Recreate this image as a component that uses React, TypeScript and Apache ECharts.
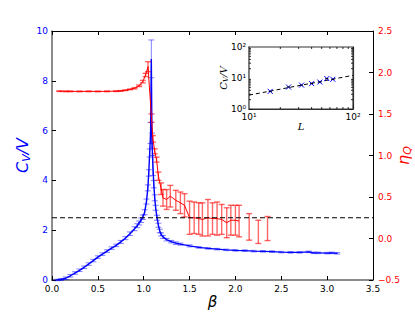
import React, { useEffect, useRef } from 'react';
import * as echarts from 'echarts';

// ---- main panel: specific heat C_V/V (left axis) ----
const betaBlue = [0.05,0.1,0.15,0.2,0.25,0.3,0.35,0.4,0.45,0.5,0.55,0.6,0.65,0.7,0.75,0.8,0.85,0.9,0.93,0.95,0.97,0.99,1.01,1.03,1.045,1.055,1.065,1.075,1.083,1.09,1.1,1.11,1.12,1.13,1.145,1.16,1.175,1.19,1.21,1.25,1.3,1.35,1.4,1.5,1.6,1.7,1.8,1.9,2.0,2.1,2.2,2.3,2.4,2.5,2.6,2.7,2.8,2.85,2.9,3.0,3.05,3.11];
const cvBlue = [0.0,0.02,0.07,0.17,0.28,0.39,0.51,0.64,0.78,0.92,1.04,1.16,1.28,1.39,1.53,1.68,1.86,2.06,2.18,2.29,2.40,2.52,2.72,3.15,3.7,4.3,5.1,5.9,8.88,5.6,4.6,3.85,3.3,2.9,2.5,2.2,1.97,1.83,1.73,1.62,1.54,1.48,1.44,1.37,1.31,1.27,1.24,1.21,1.19,1.18,1.16,1.15,1.14,1.12,1.11,1.11,1.13,1.09,1.09,1.08,1.09,1.07];
const cvErr = [0.03,0.04,0.05,0.05,0.05,0.05,0.05,0.05,0.05,0.05,0.05,0.05,0.05,0.05,0.06,0.06,0.07,0.08,0.08,0.08,0.09,0.09,0.1,0.1,0.12,0.13,0.16,0.42,0.76,0.3,0.4,0.15,0.12,0.1,0.1,0.08,0.07,0.06,0.06,0.05,0.05,0.05,0.04,0.04,0.03,0.03,0.03,0.03,0.03,0.03,0.03,0.03,0.03,0.03,0.03,0.03,0.03,0.03,0.03,0.03,0.03,0.03];

// ---- main panel: eta_Q (right axis) ----
const betaRed = [0.08,0.15,0.2,0.3,0.4,0.5,0.6,0.7,0.75,0.8,0.85,0.9,0.95,0.99,1.02,1.047,1.085,1.1,1.12,1.14,1.16,1.19,1.21,1.25,1.29,1.35,1.4,1.445,1.5,1.55,1.6,1.64,1.7,1.75,1.8,1.85,1.905,1.95,2.0,2.04];
const etaRed = [1.775,1.773,1.773,1.772,1.773,1.772,1.773,1.775,1.778,1.786,1.797,1.81,1.84,1.89,1.97,2.07,1.45,1.2,1.05,0.95,0.75,0.6,0.49,0.47,0.51,0.46,0.43,0.40,0.25,0.25,0.24,0.23,0.25,0.24,0.24,0.23,0.19,0.22,0.22,0.21];
const etaErr = [0.004,0.004,0.004,0.004,0.004,0.004,0.004,0.004,0.004,0.004,0.004,0.008,0.01,0.015,0.02,0.06,0.05,0.04,0.03,0.03,0.05,0.07,0.1,0.12,0.13,0.12,0.13,0.14,0.2,0.19,0.19,0.2,0.22,0.19,0.2,0.18,0.18,0.18,0.18,0.19];
const betaRedTail = [2.15, 2.25, 2.35];
const etaRedTail = [0.14, 0.08, 0.12];
const etaErrTail = [0.16, 0.14, 0.145];

const dashedEta = 0.25;
const betaRange = [0, 3.5];

// ---- inset: C_V/V peak vs L (log-log) ----
const insetL = [16, 24, 32, 40, 48, 56, 64];
const insetCv = [3.7, 5.1, 5.9, 6.6, 7.4, 9.6, 9.1];
const insetFitL = [10, 100];
const insetFitCv = [2.8, 12.2];
const insetMinorL = [20, 30, 40, 50, 60, 70, 80, 90];
const insetMinorCv = [2, 3, 4, 5, 6, 7, 8, 9, 20, 30, 40, 50, 60, 70, 80, 90];

const BLUE = '#0000ff';
const RED = '#ff0000';
const FONT = 'DejaVu Sans';

const SUP: Record<string, string> = { '0': '\u2070', '1': '\u00b9', '2': '\u00b2', '3': '\u00b3' };
function pow10Label(v: number) {
  const e = Math.round(Math.log10(v));
  return '10' + String(e).split('').map((c) => SUP[c] || c).join('');
}

function errorBarRender(color: string, capHalf: number, lw: number) {
  return (params: any, api: any) => {
    const x = api.value(0);
    const y = api.value(1);
    const e = api.value(2);
    const top = api.coord([x, y + e]);
    const bot = api.coord([x, y - e]);
    const style = { stroke: color, lineWidth: lw };
    return {
      type: 'group',
      children: [
        { type: 'line', shape: { x1: top[0], y1: top[1], x2: bot[0], y2: bot[1] }, style },
        { type: 'line', shape: { x1: top[0] - capHalf, y1: top[1], x2: top[0] + capHalf, y2: top[1] }, style },
        { type: 'line', shape: { x1: bot[0] - capHalf, y1: bot[1], x2: bot[0] + capHalf, y2: bot[1] }, style },
      ],
    };
  };
}

export default function App() {
  const ref = useRef<HTMLDivElement>(null);
  useEffect(() => {
    document.body.style.margin = '0';
    const chart = echarts.init(ref.current as HTMLDivElement, undefined, { renderer: 'svg' });
    const tickLabel = { fontFamily: FONT, fontSize: 9 };
    const option: any = {
      animation: false,
      backgroundColor: '#ffffff',
      grid: [
        { left: 52, right: 42, top: 31, bottom: 32, outerBoundsMode: 'none', containLabel: false },
        { left: 249, top: 47, width: 104, height: 62, show: true, backgroundColor: '#ffffff', borderColor: '#333', borderWidth: 1.2, z: 5, outerBoundsMode: 'none', containLabel: false },
      ],
      xAxis: [
        {
          gridIndex: 0, type: 'value', min: 0, max: 3.5, interval: 0.5, position: 'bottom',
          axisLine: { show: true, onZero: false, lineStyle: { color: '#666', width: 1.5 } },
          axisTick: { show: true, inside: true, length: 4, lineStyle: { color: '#000' } },
          axisLabel: { ...tickLabel, color: '#000', margin: 4, formatter: (v: number) => v.toFixed(1) },
          splitLine: { show: false },
          name: 'β', nameLocation: 'middle', nameGap: 14, nameMoveOverlap: false,
          nameTextStyle: { fontFamily: FONT, fontStyle: 'italic', fontSize: 15, color: '#000' },
        },
        {
          gridIndex: 0, type: 'value', min: 0, max: 3.5, interval: 0.5, position: 'top',
          axisLine: { show: true, onZero: false, lineStyle: { color: '#000', width: 1 } },
          axisTick: { show: true, inside: true, length: 4, lineStyle: { color: '#000' } },
          axisLabel: { show: false }, splitLine: { show: false },
        },
        {
          gridIndex: 1, type: 'log', logBase: 10, min: 10, max: 100, position: 'bottom',
          axisLine: { show: true, onZero: false, lineStyle: { color: '#333', width: 1.2 } },
          axisTick: { show: true, inside: true, length: 4, lineStyle: { color: '#000' } },
          axisLabel: { ...tickLabel, color: '#000', margin: 3, formatter: (v: number) => pow10Label(v) },
          splitLine: { show: false },
          name: 'L', nameLocation: 'middle', nameGap: 12, nameMoveOverlap: false,
          nameTextStyle: { fontFamily: 'DejaVu Serif', fontStyle: 'italic', fontSize: 10, color: '#000' },
        },
        {
          gridIndex: 1, type: 'log', logBase: 10, min: 10, max: 100, position: 'top',
          axisLine: { show: true, onZero: false, lineStyle: { color: '#333', width: 1.2 } },
          axisTick: { show: true, inside: true, length: 4, lineStyle: { color: '#000' } },
          axisLabel: { show: false }, splitLine: { show: false },
        },
      ],
      yAxis: [
        {
          gridIndex: 0, type: 'value', min: 0, max: 10, interval: 2, position: 'left',
          axisLine: { show: true, onZero: false, lineStyle: { color: '#666', width: 1.5 } },
          axisTick: { show: true, inside: true, length: 4, lineStyle: { color: '#000' } },
          axisLabel: { ...tickLabel, color: BLUE, margin: 4 },
          splitLine: { show: false },
          name: '{a|C}{b|V}{a|/V}', nameLocation: 'middle', nameGap: 20, nameRotate: 90, nameMoveOverlap: false,
          nameTextStyle: {
            rich: {
              a: { fontFamily: FONT, fontStyle: 'italic', fontSize: 16, color: BLUE, lineHeight: 20 },
              b: { fontFamily: FONT, fontStyle: 'italic', fontSize: 11, color: BLUE, lineHeight: 12, padding: [8, 0, 0, 0] },
            },
          },
        },
        {
          gridIndex: 0, type: 'value', min: -0.5, max: 2.5, interval: 0.5, position: 'right',
          axisLine: { show: true, onZero: false, lineStyle: { color: '#000', width: 1 } },
          axisTick: { show: true, inside: true, length: 4, lineStyle: { color: '#000' } },
          axisLabel: { ...tickLabel, color: RED, margin: 5, formatter: (v: number) => (v < 0 ? '\u2212' : '') + Math.abs(v).toFixed(1) },
          splitLine: { show: false },
          name: '{a|η}{b|Q}', nameLocation: 'middle', nameGap: 20, nameRotate: 90, nameMoveOverlap: false,
          nameTextStyle: {
            rich: {
              a: { fontFamily: FONT, fontStyle: 'italic', fontSize: 16, color: RED, lineHeight: 20 },
              b: { fontFamily: FONT, fontStyle: 'italic', fontSize: 11, color: RED, lineHeight: 12, padding: [8, 0, 0, 0] },
            },
          },
        },
        {
          gridIndex: 1, type: 'log', logBase: 10, min: 1, max: 100, position: 'left',
          axisLine: { show: true, onZero: false, lineStyle: { color: '#333', width: 1.2 } },
          axisTick: { show: true, inside: true, length: 4, lineStyle: { color: '#000' } },
          axisLabel: { ...tickLabel, color: '#000', margin: 3, formatter: (v: number) => pow10Label(v) },
          splitLine: { show: false },
          name: '{a|C}{b|V}{a|/V}', nameLocation: 'middle', nameGap: 20, nameRotate: 90, nameMoveOverlap: false,
          nameTextStyle: {
            rich: {
              a: { fontFamily: 'DejaVu Serif', fontStyle: 'italic', fontSize: 10, color: '#000', lineHeight: 12 },
              b: { fontFamily: 'DejaVu Serif', fontStyle: 'italic', fontSize: 7, color: '#000', lineHeight: 8, padding: [5, 0, 0, 0] },
            },
          },
        },
        {
          gridIndex: 1, type: 'log', logBase: 10, min: 1, max: 100, position: 'right',
          axisLine: { show: true, onZero: false, lineStyle: { color: '#333', width: 1.2 } },
          axisTick: { show: true, inside: true, length: 4, lineStyle: { color: '#000' } },
          axisLabel: { show: false }, splitLine: { show: false },
        },
      ],
      series: [
        {
          type: 'custom', name: 'cvErr', xAxisIndex: 0, yAxisIndex: 0, z: 2,
          renderItem: errorBarRender('rgba(0,0,255,0.5)', 3, 1),
          data: betaBlue.map((b, i) => [b, cvBlue[i], cvErr[i]]),
        },
        {
          type: 'line', name: 'cv', xAxisIndex: 0, yAxisIndex: 0, z: 3, symbol: 'none',
          lineStyle: { color: BLUE, width: 1.4 },
          data: betaBlue.map((b, i) => [b, cvBlue[i]]),
        },
        {
          type: 'custom', name: 'etaErr', xAxisIndex: 0, yAxisIndex: 1, z: 2,
          renderItem: errorBarRender('rgba(255,0,0,0.6)', 3, 1.4),
          data: betaRed.map((b, i) => [b, etaRed[i], etaErr[i]]).concat(
            betaRedTail.map((b, i) => [b, etaRedTail[i], etaErrTail[i]])
          ),
        },
        {
          type: 'line', name: 'eta', xAxisIndex: 0, yAxisIndex: 1, z: 3, symbol: 'none',
          lineStyle: { color: RED, width: 1 },
          data: betaRed.map((b, i) => [b, etaRed[i]]),
        },
        {
          type: 'line', name: 'level', xAxisIndex: 0, yAxisIndex: 1, z: 4, symbol: 'none',
          lineStyle: { color: '#000', width: 1, type: [5, 3] },
          data: betaRange.map((b) => [b, dashedEta]),
        },
        {
          type: 'line', name: 'fit', xAxisIndex: 2, yAxisIndex: 2, z: 6, symbol: 'none',
          lineStyle: { color: '#000', width: 1, type: [4, 3] },
          data: insetFitL.map((l, i) => [l, insetFitCv[i]]),
        },
        {
          type: 'custom', name: 'insetPts', xAxisIndex: 2, yAxisIndex: 2, z: 7,
          renderItem: (params: any, api: any) => {
            const p = api.coord([api.value(0), api.value(1)]);
            const s = 2.5;
            const style = { stroke: BLUE, lineWidth: 1 };
            return {
              type: 'group',
              children: [
                { type: 'line', shape: { x1: p[0] - s, y1: p[1] - s, x2: p[0] + s, y2: p[1] + s }, style },
                { type: 'line', shape: { x1: p[0] - s, y1: p[1] + s, x2: p[0] + s, y2: p[1] - s }, style },
                { type: 'line', shape: { x1: p[0] - 1.5, y1: p[1], x2: p[0] + 1.5, y2: p[1] }, style: { stroke: '#000', lineWidth: 1 } },
              ],
            };
          },
          data: insetL.map((l, i) => [l, insetCv[i]]),
        },
        {
          type: 'custom', name: 'minorX', xAxisIndex: 2, yAxisIndex: 2, z: 7,
          renderItem: (params: any, api: any) => {
            const cs = params.coordSys;
            const p = api.coord([api.value(0), 10]);
            const b = cs.y + cs.height;
            const style = { stroke: '#000', lineWidth: 0.8 };
            return {
              type: 'group',
              children: [
                { type: 'line', shape: { x1: p[0], y1: b, x2: p[0], y2: b - 2 }, style },
                { type: 'line', shape: { x1: p[0], y1: cs.y, x2: p[0], y2: cs.y + 2 }, style },
              ],
            };
          },
          data: insetMinorL.map((l) => [l, 10]),
        },
        {
          type: 'custom', name: 'minorY', xAxisIndex: 2, yAxisIndex: 2, z: 7,
          renderItem: (params: any, api: any) => {
            const cs = params.coordSys;
            const p = api.coord([20, api.value(1)]);
            const r = cs.x + cs.width;
            const style = { stroke: '#000', lineWidth: 0.8 };
            return {
              type: 'group',
              children: [
                { type: 'line', shape: { x1: cs.x, y1: p[1], x2: cs.x + 2, y2: p[1] }, style },
                { type: 'line', shape: { x1: r, y1: p[1], x2: r - 2, y2: p[1] }, style },
              ],
            };
          },
          data: insetMinorCv.map((c) => [20, c]),
        },
      ],
    };
    chart.setOption(option);
    return () => chart.dispose();
  }, []);
  return <div ref={ref} style={{ width: 415, height: 312 }} />;
}
